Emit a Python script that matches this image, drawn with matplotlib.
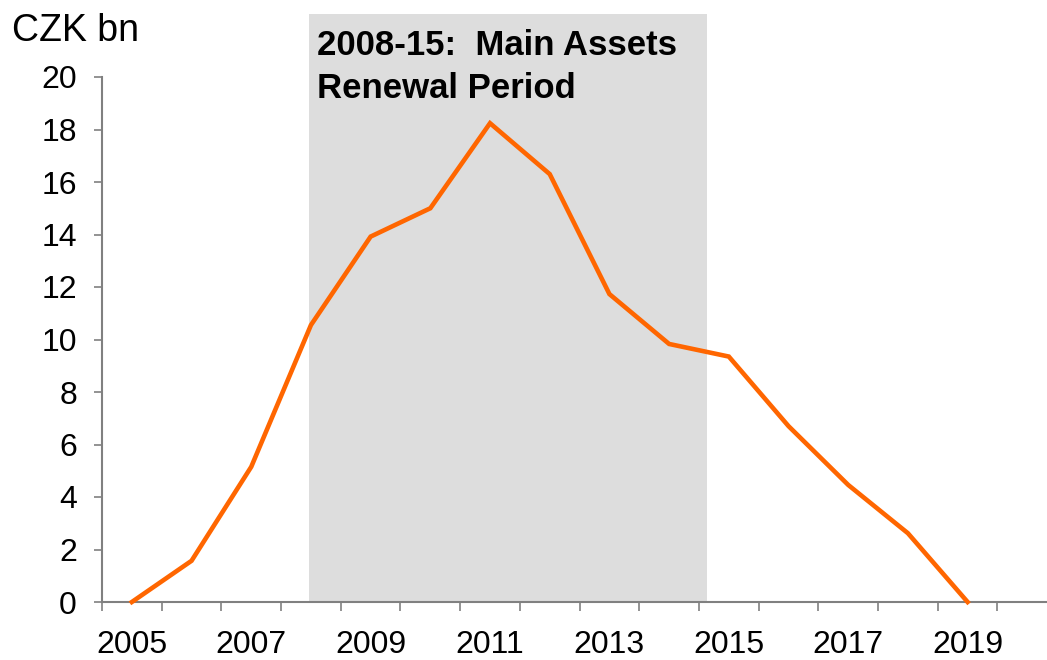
import matplotlib
matplotlib.use("Agg")
import matplotlib.pyplot as plt
from matplotlib.patches import Rectangle
import numpy as np

plt.rcParams['font.family'] = ['Liberation Sans', 'DejaVu Sans']

# capex profile, CZK bn
years = [2005, 2006, 2007, 2008, 2009, 2010, 2011, 2012,
         2013, 2014, 2015, 2016, 2017, 2018, 2019]
values = [0.0, 1.57, 5.15, 10.55, 13.92, 15.0, 18.24, 16.3,
          11.73, 9.83, 9.35, 6.7, 4.46, 2.62, 0.0]
label_years = [2005, 2007, 2009, 2011, 2013, 2015, 2017, 2019]
shade_span = (2007.97, 2014.63)   # renewal period band
y_ticks = list(range(0, 21, 2))

ORANGE = "#FF6600"
GREY = "#808080"

fig = plt.figure(figsize=(10.47, 6.6), dpi=100)
ax = fig.add_axes([102/1047, 1 - 602/660, 1 - 102/1047, (602 - 77)/660])

ax.set_xlim(2004.5, 2020.33)
ax.set_ylim(0, 20)

# shaded band reaches above the plot area, like the original
band = Rectangle((shade_span[0], 0), shade_span[1] - shade_span[0], 22.4,
                 facecolor="#DDDDDD", edgecolor="none", clip_on=False, zorder=0)
ax.add_patch(band)

ax.plot(years, values, color=ORANGE, linewidth=3.3, solid_joinstyle='miter',
        zorder=3, clip_on=False)

for s in ['top', 'right']:
    ax.spines[s].set_visible(False)
for s in ['left', 'bottom']:
    ax.spines[s].set_color(GREY)
    ax.spines[s].set_linewidth(1.5)
    ax.spines[s].set_zorder(2)
ax.patch.set_visible(False)

ax.set_yticks(y_ticks)
ax.tick_params(axis='y', length=6, width=1.2, color=GREY, pad=12, labelsize=23)

# category boundaries carry the tick marks, labels sit in the middle
ax.set_xticks(np.arange(2004.5, 2020.4, 1.0))
ax.set_xticklabels([])
ax.tick_params(axis='x', which='major', length=6.5, width=1.2, color=GREY)
ax.set_xticks(label_years, minor=True)
ax.set_xticklabels([str(y) for y in label_years], minor=True)
ax.tick_params(axis='x', which='minor', length=0, pad=20, labelsize=23)

fig.text(12/1047, 1 - 41/660, "CZK bn", fontsize=27, ha='left', va='baseline')
fig.text(317/1047, 1 - 55/660, "2008-15:  Main Assets",
         fontsize=25, fontweight='bold', ha='left', va='baseline')
fig.text(317/1047, 1 - 98/660, "Renewal Period",
         fontsize=25, fontweight='bold', ha='left', va='baseline')

fig.savefig("out.png", dpi=100)
